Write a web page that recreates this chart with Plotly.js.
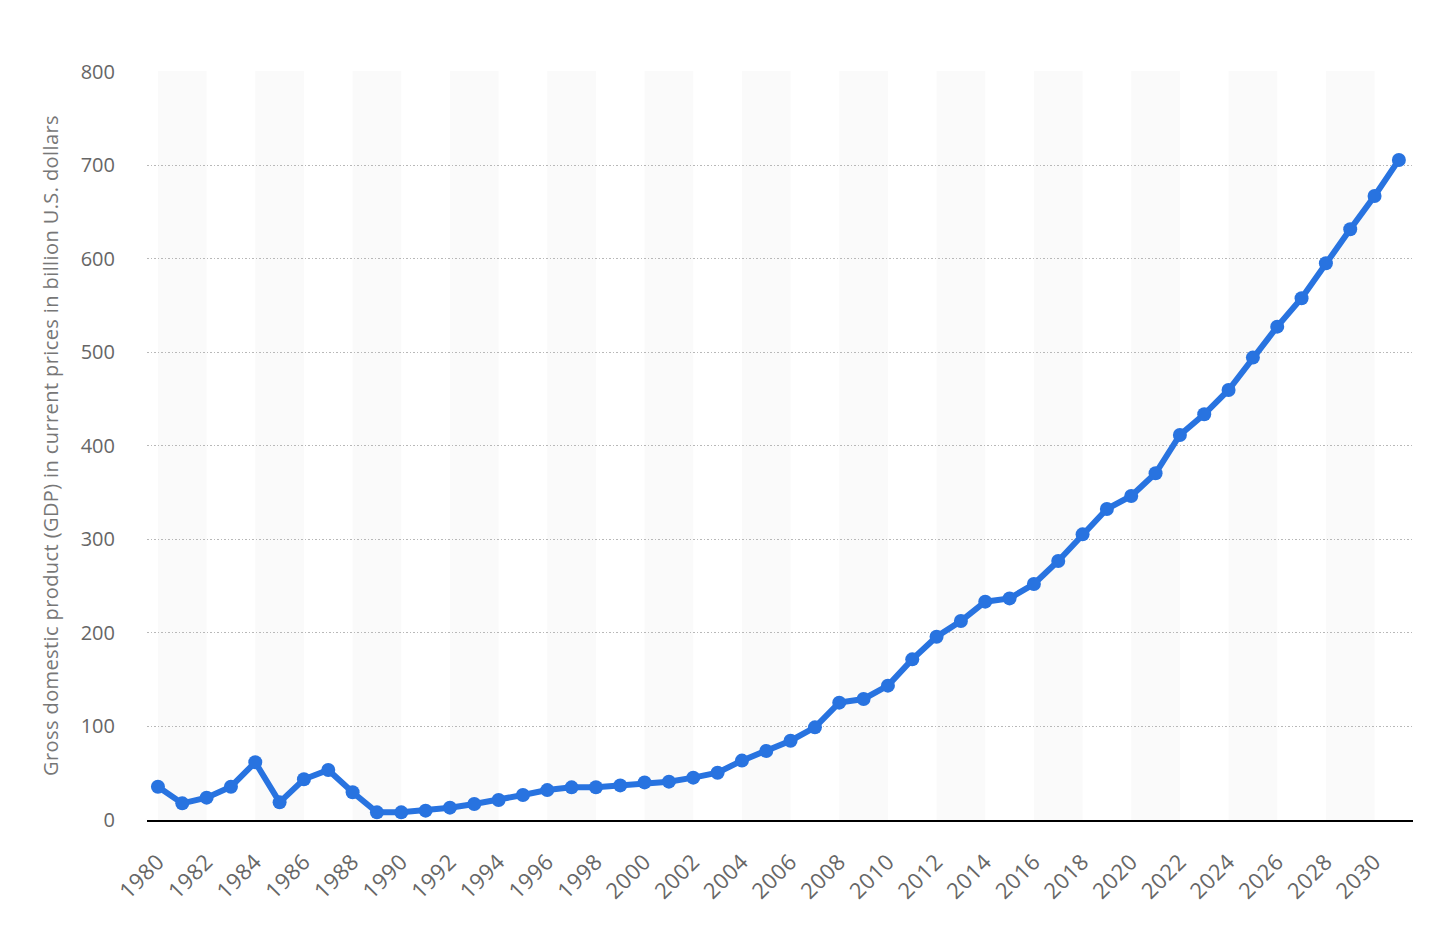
<!DOCTYPE html>
<html>
<head>
<meta charset="utf-8">
<script src="https://cdn.plot.ly/plotly-3.0.1.min.js"></script>
<style>
html,body{margin:0;padding:0;background:#fff;}
#chart{width:1444px;height:942px;}
#chart .g-ytitle text{letter-spacing:0.4px;}
#chart .xtick text{letter-spacing:0.5px;}
</style>
</head>
<body>
<div id="chart"></div>
<script>
var years = [1980,1981,1982,1983,1984,1985,1986,1987,1988,1989,
  1990,1991,1992,1993,1994,1995,1996,1997,1998,1999,
  2000,2001,2002,2003,2004,2005,2006,2007,2008,2009,
  2010,2011,2012,2013,2014,2015,2016,2017,2018,2019,
  2020,2021,2022,2023,2024,2025,2026,2027,2028,2029,
  2030,2031];
var gdp = [35.6,17.8,23.9,35.6,61.7,18.9,43.5,53.5,29.6,8.2,
  8.2,10.0,13.2,17.1,21.4,26.7,32.0,34.9,35.0,37.0,
  40.2,41.0,45.3,50.6,63.5,73.8,84.8,99.1,125.5,129.4,
  143.7,171.8,196.0,212.8,233.5,237.0,252.4,277.0,305.5,332.6,
  346.5,370.8,411.8,433.9,459.9,494.5,527.6,558.0,595.4,631.7,
  667.4,705.9];
var yTicks = [0,100,200,300,400,500,600,700,800];
var xTicks = [1980,1982,1984,1986,1988,1990,1992,1994,1996,1998,2000,2002,2004,2006,2008,2010,2012,2014,2016,2018,2020,2022,2024,2026,2028,2030];

var shapes = [];
for (var i = 0; i < years.length; i += 4) {
  if (years[i] + 2 <= years[years.length-1]) {
    shapes.push({type:'rect', xref:'x', yref:'paper', x0:years[i], x1:years[i]+2, y0:0, y1:1,
      fillcolor:'#fafafa', line:{width:0}, layer:'below'});
  }
}

var trace = {
  x: years, y: gdp, type:'scatter', mode:'lines+markers',
  line:{color:'#2873e0', width:6},
  marker:{color:'#2873e0', size:14},
  hoverinfo:'x+y'
};

var layout = {
  width:1444, height:942,
  margin:{l:147, r:31, t:71, b:122},
  paper_bgcolor:'#fff', plot_bgcolor:'rgba(0,0,0,0)',
  showlegend:false,
  font:{family:'"Open Sans", sans-serif', color:'#666'},
  shapes: shapes,
  xaxis:{
    range:[1979.55, 2031.58],
    tickmode:'array', tickvals:xTicks, ticktext:xTicks.map(String),
    tickangle:-45, tickfont:{size:22, color:'#666'},
    showgrid:false, zeroline:false,
    showline:true, linecolor:'#000', linewidth:2,
    ticks:'outside', ticklen:18, tickcolor:'rgba(0,0,0,0)'
  },
  yaxis:{
    range:[0, 801],
    tickmode:'array', tickvals:yTicks, ticktext:yTicks.map(String),
    tickfont:{size:20, color:'#666'},
    showgrid:true, gridcolor:'#b8b8b8', griddash:'1.5px,2px', gridwidth:1,
    zeroline:false, showline:false,
    ticks:'outside', ticklen:27, tickcolor:'rgba(0,0,0,0)',
    title:{text:'Gross domestic product (GDP) in current prices in billion U.S. dollars',
      font:{size:20, color:'#777'}, standoff:16}
  }
};

Plotly.newPlot('chart', [trace], layout, {displayModeBar:false, staticPlot:true});
</script>
</body>
</html>
